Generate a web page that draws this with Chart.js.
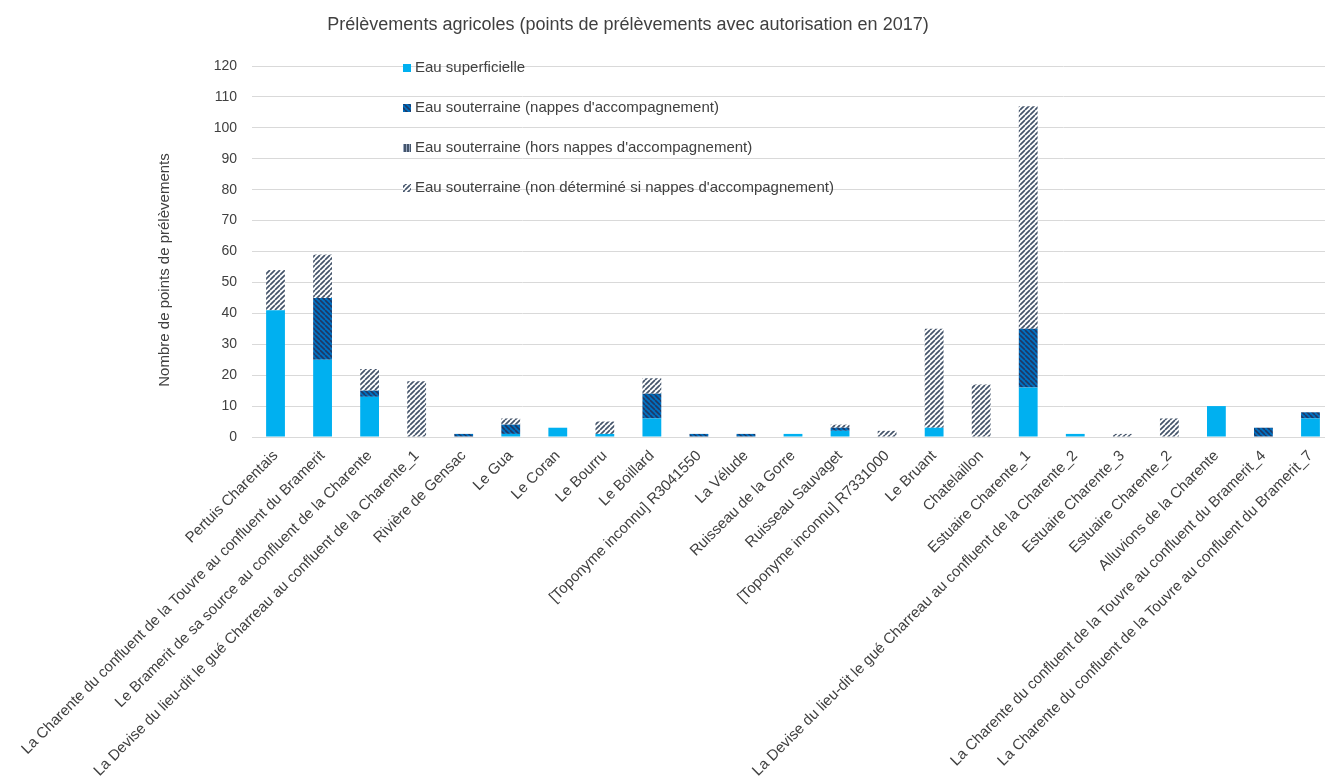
<!DOCTYPE html>
<html lang="fr">
<head>
<meta charset="utf-8">
<title>Prélèvements agricoles</title>
<script src="https://cdn.jsdelivr.net/npm/chart.js@4"></script>
<style>
    html, body { margin: 0; padding: 0; background: #fff; overflow: hidden; }
    #wrap { width: 1345px; height: 783px; }
</style>
</head>
<body>
<div id="wrap"><canvas id="prelevChart" width="1345" height="783"></canvas></div>
<script>
// Categories (masses d'eau)
const categories = [
    'Pertuis Charentais',
    'La Charente du confluent de la Touvre au confluent du Bramerit',
    'Le Bramerit de sa source au confluent de la Charente',
    'La Devise du lieu-dit le gué Charreau au confluent de la Charente_1',
    'Rivière de Gensac',
    'Le Gua',
    'Le Coran',
    'Le Bourru',
    'Le Boillard',
    '[Toponyme inconnu] R3041550',
    'La Vélude',
    'Ruisseau de la Gorre',
    'Ruisseau Sauvaget',
    '[Toponyme inconnu] R7331000',
    'Le Bruant',
    'Chatelaillon',
    'Estuaire Charente_1',
    'La Devise du lieu-dit le gué Charreau au confluent de la Charente_2',
    'Estuaire Charente_3',
    'Estuaire Charente_2',
    'Alluvions de la Charente',
    'La Charente du confluent de la Touvre au confluent du Bramerit_4',
    'La Charente du confluent de la Touvre au confluent du Bramerit_7'
];

// Series values (nombre de points)
const eauSuperficielle = [41, 25, 13, 0, 0, 1, 3, 1, 6, 0, 0, 1, 2, 0, 3, 0, 16, 1, 0, 0, 10, 0, 6];
const nappesAccomp     = [0, 20, 2, 0, 1, 3, 0, 0, 8, 1, 1, 0, 1, 0, 0, 0, 19, 0, 0, 0, 0, 3, 2];
const horsNappes       = [0, 0, 0, 0, 0, 0, 0, 0, 0, 0, 0, 0, 0, 0, 0, 0, 0, 0, 0, 0, 0, 0, 0];
const nonDetermine     = [13, 14, 7, 18, 0, 2, 0, 4, 5, 0, 0, 0, 1, 2, 32, 17, 72, 0, 1, 6, 0, 0, 0];

const seriesLabels = [
    'Eau superficielle',
    "Eau souterraine (nappes d'accompagnement)",
    "Eau souterraine (hors nappes d'accompagnement)",
    "Eau souterraine (non déterminé si nappes d'accompagnement)"
];

const yTicks = { min: 0, max: 120, step: 10 };

const chartTitle = 'Prélèvements agricoles (points de prélèvements avec autorisation en 2017)';
const yTitle = 'Nombre de points de prélèvements';

const TEXT = '#404040';
const FONT = "'Liberation Sans', Arial, sans-serif";

// hatch patterns like the Excel fills
function makePattern(bg, fg, size, width, kind) {
    const c = document.createElement('canvas');
    c.width = size; c.height = size;
    const x = c.getContext('2d');
    x.fillStyle = bg;
    x.fillRect(0, 0, size, size);
    x.strokeStyle = fg;
    x.lineWidth = width;
    x.beginPath();
    for (let k = -size; k <= size; k += size) {
        if (kind === 'down') { x.moveTo(k, 0); x.lineTo(k + size, size); }
        else if (kind === 'up') { x.moveTo(k, size); x.lineTo(k + size, 0); }
        else if (kind === 'vert') { x.moveTo(size / 2, 0); x.lineTo(size / 2, size); }
    }
    x.stroke();
    return x.createPattern(c, 'repeat');
}

const fillSup = '#00B0F0';
const fillNappes = makePattern('#0070C0', '#1F3864', 5, 1.6, 'down');
const fillHors = makePattern('#44546A', '#9AA9C2', 3, 1, 'vert');
const fillNd = makePattern('#ffffff', '#44546A', 5, 1.7, 'up');

// title, y title and legend drawn where Excel put them
const decorations = {
    id: 'decorations',
    afterDraw(chart) {
        const ctx = chart.ctx;
        ctx.save();
        ctx.fillStyle = TEXT;
        ctx.textBaseline = 'middle';

        ctx.font = `18px ${FONT}`;
        ctx.textAlign = 'center';
        ctx.fillText(chartTitle, 628, 25);

        ctx.save();
        ctx.translate(165, 270);
        ctx.rotate(-Math.PI / 2);
        ctx.font = `15px ${FONT}`;
        ctx.fillText(yTitle, 0, 0);
        ctx.restore();

        ctx.font = `15px ${FONT}`;
        ctx.textAlign = 'left';
        chart.data.datasets.forEach((ds, i) => {
            const y = 68 + i * 40;
            ctx.fillStyle = ds.backgroundColor;
            ctx.fillRect(403, y - 4, 8, 8);
            ctx.fillStyle = TEXT;
            ctx.fillText(ds.label, 415, y);
        });
        ctx.restore();
    }
};

const fills = [fillSup, fillNappes, fillHors, fillNd];
const values = [eauSuperficielle, nappesAccomp, horsNappes, nonDetermine];

new Chart(document.getElementById('prelevChart'), {
    type: 'bar',
    data: {
        labels: categories,
        datasets: seriesLabels.map((label, i) => ({
            label: label,
            data: values[i],
            backgroundColor: fills[i],
            borderWidth: 0,
            barPercentage: 0.4,
            categoryPercentage: 1
        }))
    },
    options: {
        responsive: false,
        animation: false,
        devicePixelRatio: 1,
        layout: { padding: { left: 0, right: 11, top: 66, bottom: 0 } },
        plugins: {
            legend: { display: false },
            tooltip: { enabled: false },
            title: { display: false }
        },
        scales: {
            x: {
                stacked: true,
                grid: { display: false },
                border: { display: true, color: '#D9D9D9' },
                ticks: {
                    color: TEXT,
                    font: { family: FONT, size: 15 },
                    minRotation: 45,
                    maxRotation: 45,
                    autoSkip: false,
                    padding: 2
                },
                afterFit: s => { s.height = 346; }
            },
            y: {
                stacked: true,
                min: yTicks.min,
                max: yTicks.max,
                border: { display: false },
                grid: { color: '#D9D9D9', drawTicks: false },
                ticks: {
                    stepSize: yTicks.step,
                    color: TEXT,
                    font: { family: FONT, size: 14 },
                    padding: 15
                },
                afterFit: s => { s.width = 252; }
            }
        }
    },
    plugins: [decorations]
});
</script>
</body>
</html>
